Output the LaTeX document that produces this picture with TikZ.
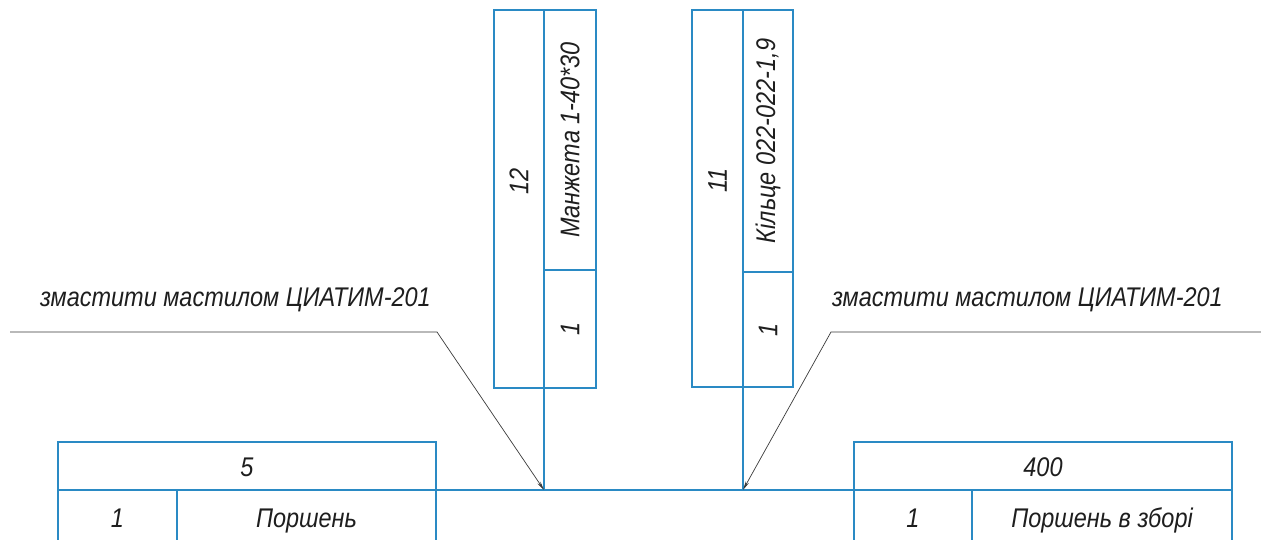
\documentclass[tikz,border=0pt]{standalone}
\usepackage{fontspec}
\usepackage{graphicx}
\newfontfamily\gostfont{Liberation Sans}[FakeStretch=0.87]
\usetikzlibrary{arrows.meta, positioning}

\newcommand{\vtext}[1]{\rotatebox{90}{#1}}

\begin{document}
\begin{tikzpicture}[x=1pt, y=-1pt, node distance=0pt]
  \definecolor{framecol}{HTML}{2A8AC4}
  \definecolor{inkcol}{HTML}{1E1E1E}
  \definecolor{leadcol}{HTML}{3A3A3A}

  \tikzset{
    cell/.style={
      rectangle, draw=framecol, line width=1.4pt,
      inner sep=0pt, outer sep=0pt,
      font=\gostfont\itshape\fontsize{27}{30}\selectfont,
      text=inkcol
    },
    hcell/.style={cell, text height=20pt, text depth=0pt},
    note/.style={
      inner sep=0pt, outer sep=0pt,
      font=\gostfont\itshape\fontsize{27}{30}\selectfont,
      text=inkcol
    },
    frame/.style={draw=framecol, line width=1.4pt},
    lead/.style={
      -{Stealth[length=9pt, width=3.5pt]},
      draw=leadcol, line width=0.7pt
    }
  }

  \clip (0,0) rectangle (1261,540);

  % left block
  \node[hcell, minimum width=378pt, minimum height=48pt, anchor=north west] (numL) at (58,442) {5};
  \node[hcell, below=0pt of numL.south west, anchor=north west, minimum width=119pt, minimum height=54pt] (qtyL) {1};
  \node[hcell, right=0pt of qtyL, minimum width=259pt, minimum height=54pt] (nameL) {Поршень};

  % right block
  \node[hcell, minimum width=378pt, minimum height=48pt, anchor=north west] (numR) at (854,442) {400};
  \node[hcell, below=0pt of numR.south west, anchor=north west, minimum width=118pt, minimum height=54pt] (qtyR) {1};
  \node[hcell, right=0pt of qtyR, minimum width=260pt, minimum height=54pt] (nameR) {Поршень в зборі};

  % cuff
  \node[cell, minimum width=50pt, minimum height=378pt, anchor=north west] (posM) at (494,10) {\vtext{\kern36pt 12}};
  \node[cell, anchor=north west, minimum width=52pt, minimum height=260pt] (nameM) at (posM.north east) {\vtext{Манжета 1-40*30}};
  \node[cell, below=0pt of nameM, minimum width=52pt, minimum height=118pt] (qtyM) {\vtext{1}};

  % ring
  \node[cell, minimum width=51pt, minimum height=377pt, anchor=north west] (posK) at (692,10) {\vtext{\kern36pt 11}};
  \node[cell, anchor=north west, minimum width=50pt, minimum height=262pt] (nameK) at (posK.north east) {\vtext{Кільце 022-022-1,9}};
  \node[cell, below=0pt of nameK, minimum width=50pt, minimum height=115pt] (qtyK) {\vtext{1}};

  \coordinate (footM) at (qtyM.south west |- numL.south);
  \coordinate (footK) at (qtyK.south west |- numL.south);

  \draw[frame] (numL.south east) -- (numR.south west);
  \draw[frame] (qtyM.south west) -- (footM);
  \draw[frame] (qtyK.south west) -- (footK);

  % notes
  \node[note, anchor=base west] (noteL) at (40,306) {змастити мастилом ЦИАТИМ-201};
  \node[note, anchor=base west] (noteR) at (832,306) {змастити мастилом ЦИАТИМ-201};

  \coordinate (tailL) at (10,332);
  \coordinate (kneeL) at (437,332);
  \coordinate (tailR) at (1261,332);
  \coordinate (kneeR) at (831,332);

  \draw[lead] (tailL) -- (kneeL) -- (footM);
  \draw[lead] (tailR) -- (kneeR) -- (footK);
\end{tikzpicture}
\end{document}
